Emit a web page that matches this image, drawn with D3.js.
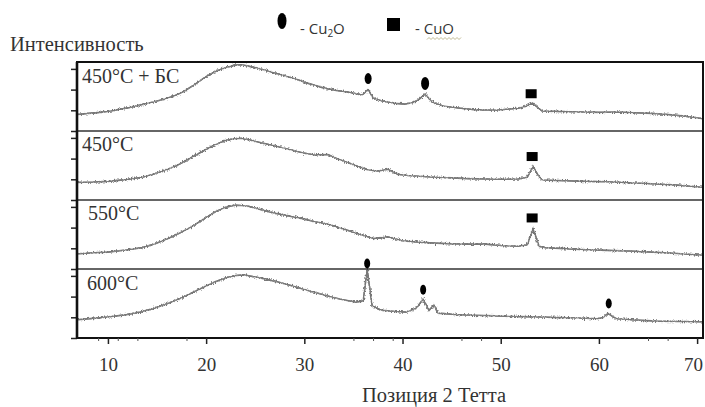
<!DOCTYPE html>
<html>
<head>
<meta charset="utf-8">
<script src="https://cdn.jsdelivr.net/npm/d3@7/dist/d3.min.js"></script>
<style>
  body { margin: 0; background: #fff; }
  text { font-family: "Liberation Serif", "DejaVu Serif", serif; fill: #333; }
</style>
</head>
<body>
<div class="chart"></div>
<script>
var svgWidth = 705;
var svgHeight = 407;

// panel names, top to bottom
var panelNames = ["450BS", "450", "550", "600"];
var panelLabels = ["450", "450", "550", "600"];
var panelSuffix = [" + БС", "", "", ""];

// 2 theta / intensity (0-100 inside each panel)
var series450BS = [
  [6.9, 24], [8, 25.5], [9.2, 27], [10.3, 29], [11, 31], [12.2, 34], [13.5, 38.5], [14.6, 42],
  [15.7, 46], [16.8, 51], [17.8, 58], [18.9, 68], [19.9, 78], [20.9, 86], [21.9, 91.5],
  [22.9, 95.5], [23.6, 96], [24.3, 94], [25.3, 91], [26.3, 87], [27.3, 83], [28.3, 79],
  [29.4, 74], [30.4, 69], [31.4, 65], [32.4, 61], [33.4, 58.5], [34.4, 56.5], [35.3, 54],
  [35.9, 52.5], [36.5, 60], [37, 48], [37.8, 44], [38.5, 42], [39.3, 40], [40.2, 39],
  [41, 41], [41.6, 45], [42.3, 53.5], [43, 42], [44, 37], [45, 34.5], [46.2, 32.5],
  [47.3, 31], [48.4, 30.5], [49.5, 30], [50.6, 31.5], [51.8, 33], [52.6, 36], [53.2, 40.5],
  [53.7, 35], [54.2, 29], [55.5, 28.5], [57, 28], [58.6, 27.5], [60, 27], [61.9, 27.5],
  [63.5, 26.5], [65.4, 25.5], [67, 24], [68.7, 21.5], [70.5, 18]
];
var series450 = [
  [6.9, 25.5], [8.5, 26], [10, 27], [11.8, 29.5], [13.5, 33], [14.8, 38], [16.1, 44.5],
  [17.3, 52], [18.5, 61.5], [19.7, 71], [20.9, 80], [21.9, 86], [22.9, 89], [23.6, 89.5],
  [24.3, 87.5], [25.6, 83], [27, 78.5], [28.4, 73.5], [29.8, 68.5], [31, 65.5], [32.4, 66],
  [33.4, 59.5], [34.4, 54.5], [35.5, 48.5], [36.5, 43.5], [37.5, 42], [38.5, 44.5],
  [39.5, 37.5], [40.5, 35.5], [41.6, 34.5], [43.3, 33], [45, 32], [46.7, 31], [48.4, 30.5],
  [50.1, 30], [51.8, 30.5], [52.7, 33], [53.3, 48.5], [53.8, 36], [54.2, 29], [56.4, 28],
  [58.6, 27], [60.8, 26.5], [63.1, 25], [65.4, 23.5], [68, 21.5], [70.5, 18.5]
];
var series550 = [
  [6.9, 22], [8.5, 23.5], [10, 24.5], [11.8, 27.5], [13.5, 31], [14.8, 36.5], [16.1, 44],
  [17.3, 52], [18.5, 61], [19.7, 72], [20.9, 82.5], [21.9, 89], [22.9, 92.5], [23.6, 92],
  [24.3, 91], [25.6, 86], [27, 81], [28.4, 77], [29.8, 73], [31.1, 68.5], [32.4, 65],
  [33.4, 60.5], [34.4, 56], [35.8, 49.5], [37.1, 44], [38.5, 46.5], [40, 41], [41.6, 39],
  [43.3, 37.5], [45, 36.5], [46.7, 36], [48.4, 36], [50.1, 34], [51.8, 33], [52.7, 35],
  [53.3, 58.5], [53.9, 33], [54.5, 31], [56.5, 29.5], [58.6, 28], [60.8, 27], [63.1, 26],
  [65.4, 24.5], [68, 22.5], [70.5, 20]
];
var series600 = [
  [6.9, 26.5], [8.5, 28.5], [10, 30.5], [11.7, 33.5], [13.3, 37.5], [14.7, 43], [16, 49.5],
  [17, 55], [18, 61.5], [19, 68.5], [20, 75.5], [21, 82], [22.1, 87.5], [23, 90.5],
  [23.8, 91.5], [25, 88.5], [26.2, 85], [27.5, 80.5], [28.8, 75.5], [30.2, 69.5],
  [31.6, 64], [32.6, 60], [33.6, 56.5], [34.5, 54], [35.3, 52], [36, 54], [36.4, 100],
  [36.9, 47], [37.5, 42], [38, 40], [39.2, 38.5], [40.4, 37.5], [41.4, 43], [42.1, 56.5],
  [42.7, 40], [43.2, 48], [43.6, 36], [45.4, 34], [47.2, 33], [49.5, 32], [52, 31],
  [54, 30.5], [56, 29.5], [57.9, 29], [59.8, 28], [60.5, 30], [60.9, 36], [61.4, 31],
  [61.8, 28], [63.8, 26], [65.9, 24.5], [68.2, 24], [70.5, 23.5]
];
var allSeries = [series450BS, series450, series550, series600];

// phase markers: panel index, 2 theta, height in panel units, width, height
var cu2oMarks = [
  [0, 36.5, 76, 7, 11], [0, 42.3, 69, 8, 13],
  [3, 36.4, 108, 6, 10], [3, 42.1, 70, 6, 10], [3, 61, 50, 6, 10]
];
var cuoMarks = [[0, 53.1, 54], [1, 53.2, 63], [2, 53.2, 74]];

var xTicks = [10, 20, 30, 40, 50, 60, 70];
var xMinorTicks = [9, 11, 13, 18, 35, 37, 39, 46, 48, 65, 67];
var yTicks = [0, 30, 60, 90];

var margin = { top: 62, right: 2, bottom: 69, left: 77 };
var plotRight = svgWidth - margin.right;
var plotBottom = svgHeight - margin.bottom;

var svg = d3.select(".chart")
  .append("svg")
  .attr("width", svgWidth)
  .attr("height", svgHeight);

// a little roughness for the scan lines
var defs = svg.append("defs");
var noise = defs.append("filter")
  .attr("id", "noise")
  .attr("filterUnits", "userSpaceOnUse")
  .attr("x", 0).attr("y", 0)
  .attr("width", svgWidth).attr("height", svgHeight);
noise.append("feTurbulence")
  .attr("type", "fractalNoise")
  .attr("baseFrequency", "0.9 0.6")
  .attr("numOctaves", 1)
  .attr("seed", 4)
  .attr("result", "t");
noise.append("feDisplacementMap")
  .attr("in", "SourceGraphic")
  .attr("in2", "t")
  .attr("scale", 5)
  .attr("xChannelSelector", "R")
  .attr("yChannelSelector", "G");

var xScale = d3.scaleLinear()
  .domain([6.85, 70.6])
  .range([margin.left, plotRight]);

var band = d3.scaleBand()
  .domain(panelNames)
  .range([margin.top, plotBottom]);

function yScale(i) {
  var top = band(panelNames[i]);
  return d3.scaleLinear()
    .domain([0, 100])
    .range([top + band.bandwidth(), top]);
}

var line = d3.line()
  .x(d => xScale(d[0]))
  .curve(d3.curveLinear);

// scans: a plain line plus a roughened copy on top
allSeries.forEach(function(s, i) {
  var y = yScale(i);
  svg.append("path")
    .datum(s)
    .attr("d", line.y(d => y(d[1])))
    .attr("fill", "none")
    .attr("stroke", "#8a8a8a")
    .attr("stroke-width", 1.2);
  svg.append("path")
    .datum(s)
    .attr("d", line.y(d => y(d[1])))
    .attr("fill", "none")
    .attr("stroke", "#777")
    .attr("stroke-width", 1.6)
    .attr("filter", "url(#noise)");
});

// left ticks for each panel
panelNames.forEach(function(p, i) {
  svg.append("g")
    .attr("transform", `translate(${margin.left}, 0)`)
    .call(d3.axisLeft(yScale(i)).tickValues(yTicks).tickSize(6).tickFormat(""))
    .call(g => g.select(".domain").remove())
    .selectAll("line").attr("stroke", "#222").attr("stroke-width", 1.5);
});

// panel separators
panelNames.slice(1).forEach(function(p) {
  svg.append("line")
    .attr("x1", margin.left).attr("x2", plotRight)
    .attr("y1", band(p)).attr("y2", band(p))
    .attr("stroke", "#333")
    .attr("stroke-width", 1.6);
});

// frame
svg.append("rect")
  .attr("x", margin.left)
  .attr("y", margin.top)
  .attr("width", plotRight - margin.left)
  .attr("height", plotBottom - margin.top)
  .attr("fill", "none")
  .attr("stroke", "#111")
  .attr("stroke-width", 2);
svg.append("line")
  .attr("x1", margin.left).attr("x2", margin.left)
  .attr("y1", margin.top).attr("y2", plotBottom)
  .attr("stroke", "#111").attr("stroke-width", 2.6);

// x axis
var bottomAxis = svg.append("g")
  .attr("transform", `translate(0, ${plotBottom})`)
  .call(d3.axisBottom(xScale).tickValues(xTicks).tickSize(6).tickPadding(14).tickFormat(d3.format("d")));
bottomAxis.select(".domain").remove();
bottomAxis.selectAll("line").attr("stroke", "#222").attr("stroke-width", 1.5);
bottomAxis.selectAll("text")
  .style("font-family", "'Liberation Serif', serif")
  .attr("font-size", 19)
  .attr("fill", "#333")
  .attr("dx", d => d == 70 ? -4 : 0);

svg.append("g")
  .attr("transform", `translate(0, ${plotBottom})`)
  .call(d3.axisBottom(xScale).tickValues(xMinorTicks).tickSize(3).tickFormat(""))
  .call(g => g.select(".domain").remove())
  .selectAll("line").attr("stroke", "#555").attr("stroke-width", 1);

// markers
cu2oMarks.forEach(function(m) {
  svg.append("ellipse")
    .attr("cx", xScale(m[1]))
    .attr("cy", yScale(m[0])(m[2]))
    .attr("rx", m[3] / 2)
    .attr("ry", m[4] / 2)
    .attr("fill", "#000");
});
cuoMarks.forEach(function(m) {
  svg.append("rect")
    .attr("x", xScale(m[1]) - 5.5)
    .attr("y", yScale(m[0])(m[2]) - 4.5)
    .attr("width", 11)
    .attr("height", 9)
    .attr("fill", "#000");
});

// panel labels
var labelPos = [[82, 83], [82, 151], [88, 220], [87, 290]];
panelNames.forEach(function(p, i) {
  svg.append("text")
    .attr("x", labelPos[i][0])
    .attr("y", labelPos[i][1])
    .attr("font-size", 20)
    .text(panelLabels[i] + "°C" + panelSuffix[i]);
});

// axis titles
svg.append("text")
  .attr("x", 10)
  .attr("y", 51)
  .attr("font-size", 20.5)
  .text("Интенсивность");

svg.append("text")
  .attr("x", 362)
  .attr("y", 402)
  .attr("font-size", 20.5)
  .text("Позиция 2 Тетта");

// legend
var legend = svg.append("g");
legend.append("ellipse")
  .attr("cx", 282).attr("cy", 21)
  .attr("rx", 4.5).attr("ry", 8)
  .attr("fill", "#000");
legend.append("text")
  .attr("x", 300).attr("y", 34)
  .style("font-family", "'Open Sans', sans-serif")
  .attr("font-size", 15)
  .attr("fill", "#222")
  .html("- Cu<tspan font-size='10' dy='3'>2</tspan><tspan dy='-3'>O</tspan>");
legend.append("rect")
  .attr("x", 387).attr("y", 18)
  .attr("width", 13).attr("height", 13)
  .attr("fill", "#000");
legend.append("text")
  .attr("x", 415).attr("y", 34)
  .style("font-family", "'Open Sans', sans-serif")
  .attr("font-size", 15)
  .attr("fill", "#222")
  .text("- CuO");

// spell-check squiggle under CuO
var squiggle = d3.range(427, 462, 2).map((x, i) => [x, i % 2 ? 37.5 : 39.5]);
legend.append("path")
  .attr("d", d3.line()(squiggle))
  .attr("fill", "none")
  .attr("stroke", "#b0a878")
  .attr("stroke-width", 0.8);
</script>
</body>
</html>
